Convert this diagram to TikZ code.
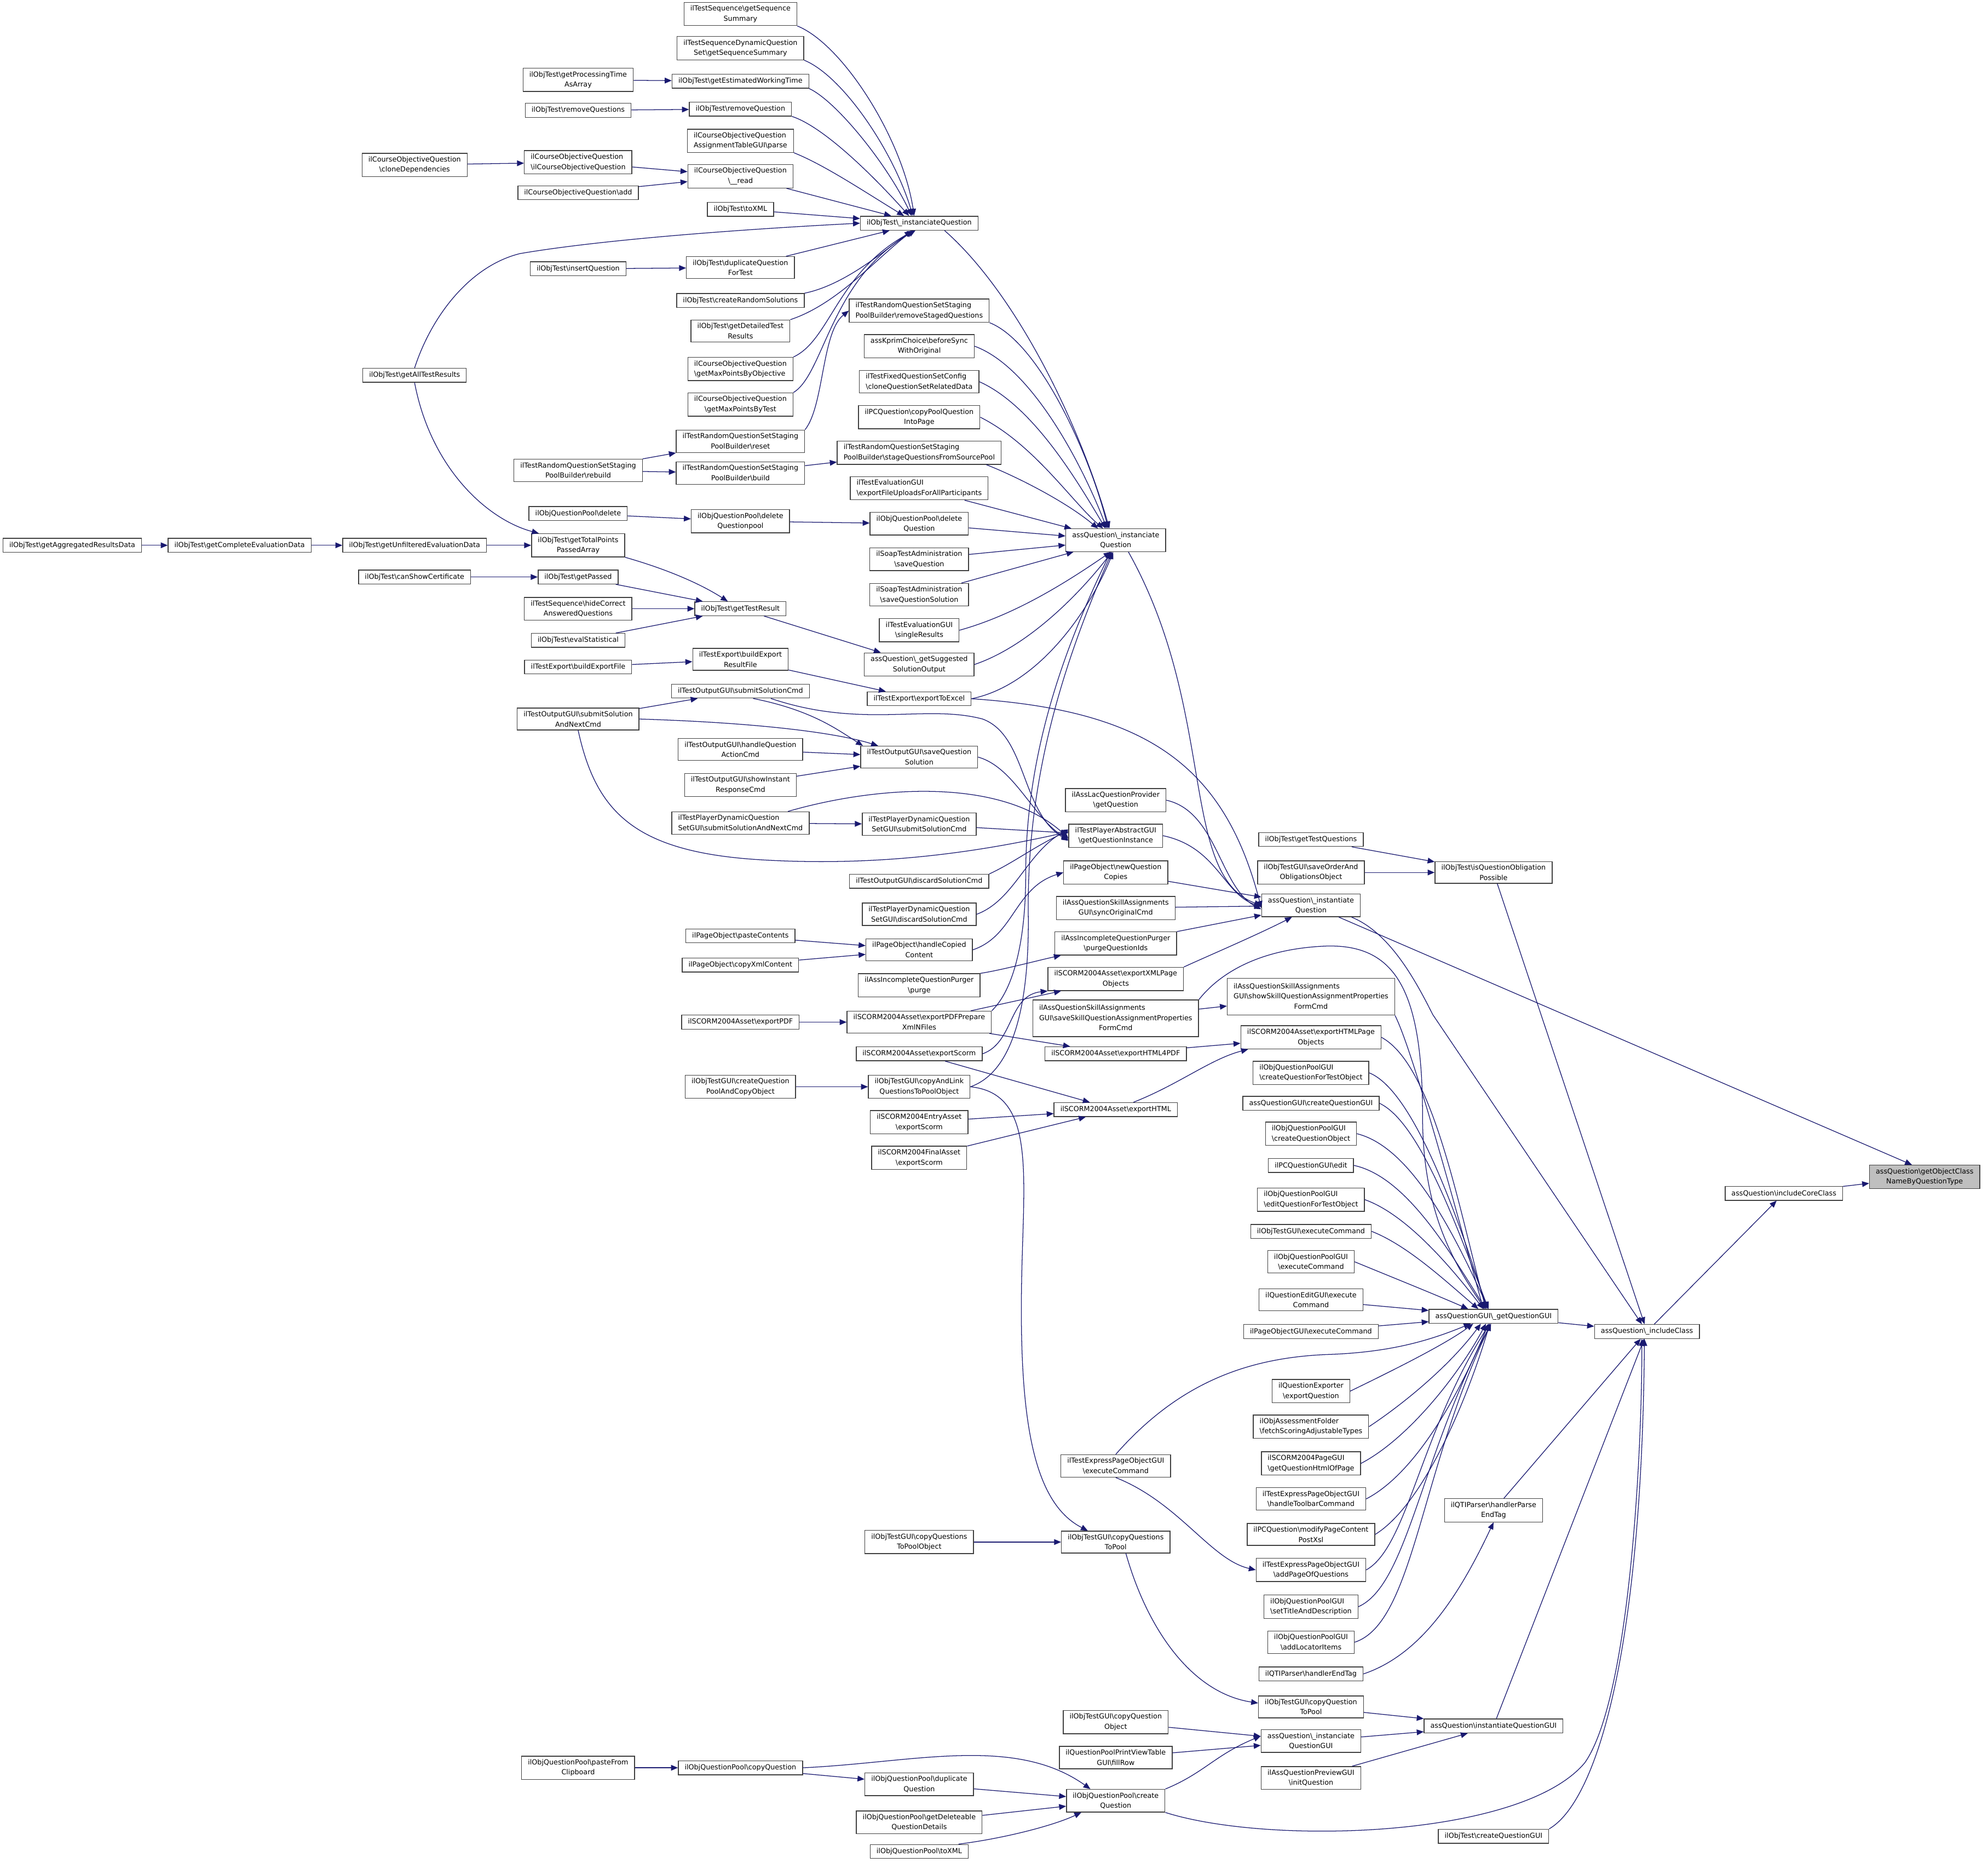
\documentclass[tikz,border=0pt]{standalone}
\usepackage{fontspec}
\setmainfont{DejaVu Sans}
\usetikzlibrary{arrows.meta}
\definecolor{edgeblue}{RGB}{25,25,112}
\newcommand{\bsl}{\textbackslash}
\newcommand{\fnfont}{\fontsize{5.5}{8}\selectfont}

\begin{document}
\begin{tikzpicture}[x=1pt, y=-1pt,
  box/.style={draw=black!75, line width=0.6pt, fill=white, font=\fnfont, inner xsep=5pt, inner ysep=2.5pt, minimum height=11pt},
  fn/.style={box, align=center},
  fnl/.style={box, align=left},
  root/.style={fn, fill=black!25},
  call/.style={draw=edgeblue, line width=0.55pt, -{Triangle[length=5.5pt, width=4.5pt]}}]
\useasboundingbox (0,0) rectangle (1568,1469);
% left part
\node[fn] (aggr) at (57,430) {ilObjTest\bsl getAggregatedResultsData};
\node[fn] (complete) at (189,430) {ilObjTest\bsl getCompleteEvaluationData};
\node[fn] (cloneDep) at (327,130) {ilCourseObjectiveQuestion\\\bsl cloneDependencies};
\node[fn] (allRes) at (327,296) {ilObjTest\bsl getAllTestResults};
\node[fn] (unfiltered) at (327,430) {ilObjTest\bsl getUnfilteredEvaluationData};
\node[fn] (canShow) at (327,455) {ilObjTest\bsl canShowCertificate};
\node[fn] (procTime) at (456,63) {ilObjTest\bsl getProcessingTime\\AsArray};
\node[fn] (removeQs) at (456,87) {ilObjTest\bsl removeQuestions};
\node[fnl] (courseCtor) at (456,128) {ilCourseObjectiveQuestion\\\bsl ilCourseObjectiveQuestion};
\node[fn] (courseAdd) at (456,152) {ilCourseObjectiveQuestion\bsl add};
\node[fn] (insertQ) at (456,212) {ilObjTest\bsl insertQuestion};
\node[fn] (rebuild) at (456,371) {ilTestRandomQuestionSetStaging\\PoolBuilder\bsl rebuild};
\node[fn] (qpDelete) at (456,405) {ilObjQuestionPool\bsl delete};
\node[fn] (totalPts) at (456,430) {ilObjTest\bsl getTotalPoints\\PassedArray};
\node[fn] (getPassed) at (456,455) {ilObjTest\bsl getPassed};
\node[fn] (hideCorrect) at (456,480) {ilTestSequence\bsl hideCorrect\\AnsweredQuestions};
\node[fn] (evalStat) at (456,505) {ilObjTest\bsl evalStatistical};
\node[fn] (buildExpFile) at (456,526) {ilTestExport\bsl buildExportFile};
\node[fn] (outSubmitNext) at (456,567) {ilTestOutputGUI\bsl submitSolution\\AndNextCmd};
\node[fn] (pasteClip) at (456,1394) {ilObjQuestionPool\bsl pasteFrom\\Clipboard};

\node[fn] (seqSum) at (584,11) {ilTestSequence\bsl getSequence\\Summary};
\node[fn] (dynSeqSum) at (584,38) {ilTestSequenceDynamicQuestion\\Set\bsl getSequenceSummary};
\node[fn] (estTime) at (584,64) {ilObjTest\bsl getEstimatedWorkingTime};
\node[fn] (removeQ) at (584,86) {ilObjTest\bsl removeQuestion};
\node[fnl] (parse) at (584,111) {ilCourseObjectiveQuestion\\AssignmentTableGUI\bsl parse};
\node[fn] (courseRead) at (584,139) {ilCourseObjectiveQuestion\\\bsl\_\_read};
\node[fn] (toXML) at (584,165) {ilObjTest\bsl toXML};
\node[fn] (dupQ) at (584,211) {ilObjTest\bsl duplicateQuestion\\ForTest};
\node[fn] (randSol) at (584,237) {ilObjTest\bsl createRandomSolutions};
\node[fn] (detailed) at (584,261) {ilObjTest\bsl getDetailedTest\\Results};
\node[fnl] (maxObj) at (584,291) {ilCourseObjectiveQuestion\\\bsl getMaxPointsByObjective};
\node[fn] (maxTest) at (584,319) {ilCourseObjectiveQuestion\\\bsl getMaxPointsByTest};
\node[fn] (reset) at (584,348) {ilTestRandomQuestionSetStaging\\PoolBuilder\bsl reset};
\node[fn] (build) at (584,373) {ilTestRandomQuestionSetStaging\\PoolBuilder\bsl build};
\node[fn] (delPool) at (584,411) {ilObjQuestionPool\bsl delete\\Questionpool};
\node[fn] (testResult) at (584,480) {ilObjTest\bsl getTestResult};
\node[fn] (buildResFile) at (584,520) {ilTestExport\bsl buildExport\\ResultFile};
\node[fn] (outSubmit) at (584,545) {ilTestOutputGUI\bsl submitSolutionCmd};
\node[fn] (handleAction) at (584,591) {ilTestOutputGUI\bsl handleQuestion\\ActionCmd};
\node[fn] (showInstant) at (584,619) {ilTestOutputGUI\bsl showInstant\\ResponseCmd};
\node[fnl] (dynSubmitNext) at (584,649) {ilTestPlayerDynamicQuestion\\SetGUI\bsl submitSolutionAndNextCmd};
\node[fn] (pasteContents) at (584,738) {ilPageObject\bsl pasteContents};
\node[fn] (copyXml) at (584,761) {ilPageObject\bsl copyXmlContent};
\node[fn] (exportPDF) at (584,806) {ilSCORM2004Asset\bsl exportPDF};
\node[fn] (createPoolCopy) at (584,857) {ilObjTestGUI\bsl createQuestion\\PoolAndCopyObject};
\node[fn] (qpCopy) at (584,1394) {ilObjQuestionPool\bsl copyQuestion};

% middle part
\node[fn] (objInst) at (725,176) {ilObjTest\bsl\_instanciateQuestion};
\node[fnl] (removeStaged) at (725,245) {ilTestRandomQuestionSetStaging\\PoolBuilder\bsl removeStagedQuestions};
\node[fn] (kprim) at (725,273) {assKprimChoice\bsl beforeSync\\WithOriginal};
\node[fnl] (fixedCfg) at (725,301) {ilTestFixedQuestionSetConfig\\\bsl cloneQuestionSetRelatedData};
\node[fn] (pcCopy) at (725,329) {ilPCQuestion\bsl copyPoolQuestion\\IntoPage};
\node[fnl] (stageQ) at (725,357) {ilTestRandomQuestionSetStaging\\PoolBuilder\bsl stageQuestionsFromSourcePool};
\node[fnl] (exportUploads) at (725,385) {ilTestEvaluationGUI\\\bsl exportFileUploadsForAllParticipants};
\node[fn] (delQuestion) at (725,413) {ilObjQuestionPool\bsl delete\\Question};
\node[fn] (soapSave) at (725,441) {ilSoapTestAdministration\\\bsl saveQuestion};
\node[fn] (soapSaveSol) at (725,469) {ilSoapTestAdministration\\\bsl saveQuestionSolution};
\node[fn] (singleRes) at (725,497) {ilTestEvaluationGUI\\\bsl singleResults};
\node[fn] (suggested) at (725,524) {assQuestion\bsl\_getSuggested\\SolutionOutput};
\node[fn] (exportExcel) at (725,551) {ilTestExport\bsl exportToExcel};
\node[fn] (saveSol) at (725,597) {ilTestOutputGUI\bsl saveQuestion\\Solution};
\node[fn] (dynSubmit) at (725,650) {ilTestPlayerDynamicQuestion\\SetGUI\bsl submitSolutionCmd};
\node[fn] (outDiscard) at (725,695) {ilTestOutputGUI\bsl discardSolutionCmd};
\node[fn] (dynDiscard) at (725,721) {ilTestPlayerDynamicQuestion\\SetGUI\bsl discardSolutionCmd};
\node[fn] (handleCopied) at (725,749) {ilPageObject\bsl handleCopied\\Content};
\node[fn] (purge) at (725,777) {ilAssIncompleteQuestionPurger\\\bsl purge};
\node[fn] (prepare) at (725,806) {ilSCORM2004Asset\bsl exportPDFPrepare\\XmlNFiles};
\node[fn] (exportScorm) at (725,831) {ilSCORM2004Asset\bsl exportScorm};
\node[fn] (copyLink) at (725,857) {ilObjTestGUI\bsl copyAndLink\\QuestionsToPoolObject};
\node[fn] (entryScorm) at (725,885) {ilSCORM2004EntryAsset\\\bsl exportScorm};
\node[fn] (finalScorm) at (725,913) {ilSCORM2004FinalAsset\\\bsl exportScorm};
\node[fn] (copyToPoolObj) at (725,1216) {ilObjTestGUI\bsl copyQuestions\\ToPoolObject};
\node[fn] (qpDuplicate) at (725,1407) {ilObjQuestionPool\bsl duplicate\\Question};
\node[fn] (deleteable) at (725,1437) {ilObjQuestionPool\bsl getDeleteable\\QuestionDetails};
\node[fn] (qpToXML) at (725,1460) {ilObjQuestionPool\bsl toXML};

\node[fn] (assInst) at (880,426) {assQuestion\bsl\_instanciate\\Question};
\node[fn] (lacProvider) at (880,631) {ilAssLacQuestionProvider\\\bsl getQuestion};
\node[fn] (questionInstance) at (880,659) {ilTestPlayerAbstractGUI\\\bsl getQuestionInstance};
\node[fn] (newCopies) at (880,688) {ilPageObject\bsl newQuestion\\Copies};
\node[fn] (syncOrig) at (880,716) {ilAssQuestionSkillAssignments\\GUI\bsl syncOriginalCmd};
\node[fn] (purgeIds) at (880,744) {ilAssIncompleteQuestionPurger\\\bsl purgeQuestionIds};
\node[fn] (exportXML) at (880,772) {ilSCORM2004Asset\bsl exportXMLPage\\Objects};
\node[box] (saveSkill) at (880,803) {\begin{tabular}{@{}l@{}}ilAssQuestionSkillAssignments\\GUI\bsl saveSkillQuestionAssignmentProperties\\\multicolumn{1}{@{}c@{}}{FormCmd}\end{tabular}};
\node[fn] (html4pdf) at (880,831) {ilSCORM2004Asset\bsl exportHTML4PDF};
\node[fn] (exportHTML) at (880,875) {ilSCORM2004Asset\bsl exportHTML};
\node[fn] (expressExec) at (880,1156) {ilTestExpressPageObjectGUI\\\bsl executeCommand};
\node[fn] (copyToPool) at (880,1216) {ilObjTestGUI\bsl copyQuestions\\ToPool};
\node[fn] (copyQObj) at (880,1358) {ilObjTestGUI\bsl copyQuestion\\Object};
\node[fn] (printRow) at (880,1386) {ilQuestionPoolPrintViewTable\\GUI\bsl fillRow};
\node[fn] (createQ) at (880,1420) {ilObjQuestionPool\bsl create\\Question};

% right part
\node[fn] (getTestQuestions) at (1034,662) {ilObjTest\bsl getTestQuestions};
\node[fn] (saveOrder) at (1034,688) {ilObjTestGUI\bsl saveOrderAnd\\ObligationsObject};
\node[fn] (assInstantiate) at (1034,714) {assQuestion\bsl\_instantiate\\Question};
\node[box] (showSkill) at (1034,786) {\begin{tabular}{@{}l@{}}ilAssQuestionSkillAssignments\\GUI\bsl showSkillQuestionAssignmentProperties\\\multicolumn{1}{@{}c@{}}{FormCmd}\end{tabular}};
\node[fn] (htmlPageObj) at (1034,818) {ilSCORM2004Asset\bsl exportHTMLPage\\Objects};
\node[fnl] (createForTest) at (1034,846) {ilObjQuestionPoolGUI\\\bsl createQuestionForTestObject};
\node[fn] (createGUI) at (1034,870) {assQuestionGUI\bsl createQuestionGUI};
\node[fnl] (createQObj) at (1034,894) {ilObjQuestionPoolGUI\\\bsl createQuestionObject};
\node[fn] (pcEdit) at (1034,919) {ilPCQuestionGUI\bsl edit};
\node[fnl] (editForTest) at (1034,946) {ilObjQuestionPoolGUI\\\bsl editQuestionForTestObject};
\node[fn] (testExec) at (1034,971) {ilObjTestGUI\bsl executeCommand};
\node[fn] (poolExec) at (1034,995) {ilObjQuestionPoolGUI\\\bsl executeCommand};
\node[fn] (editExec) at (1034,1025) {ilQuestionEditGUI\bsl execute\\Command};
\node[fn] (pageExec) at (1034,1050) {ilPageObjectGUI\bsl executeCommand};
\node[fn] (exporter) at (1034,1097) {ilQuestionExporter\\\bsl exportQuestion};
\node[fnl] (scoring) at (1034,1125) {ilObjAssessmentFolder\\\bsl fetchScoringAdjustableTypes};
\node[fnl] (scormPage) at (1034,1154) {ilSCORM2004PageGUI\\\bsl getQuestionHtmlOfPage};
\node[fn] (toolbar) at (1034,1182) {ilTestExpressPageObjectGUI\\\bsl handleToolbarCommand};
\node[fn] (modifyXsl) at (1034,1210) {ilPCQuestion\bsl modifyPageContent\\PostXsl};
\node[fn] (addPage) at (1034,1238) {ilTestExpressPageObjectGUI\\\bsl addPageOfQuestions};
\node[fnl] (setTitle) at (1034,1267) {ilObjQuestionPoolGUI\\\bsl setTitleAndDescription};
\node[fn] (locator) at (1034,1295) {ilObjQuestionPoolGUI\\\bsl addLocatorItems};
\node[fn] (endTag) at (1034,1320) {ilQTIParser\bsl handlerEndTag};
\node[fn] (copyQToPool) at (1034,1346) {ilObjTestGUI\bsl copyQuestion\\ToPool};
\node[fn] (instGUIold) at (1034,1373) {assQuestion\bsl\_instanciate\\QuestionGUI};
\node[fn] (preview) at (1034,1402) {ilAssQuestionPreviewGUI\\\bsl initQuestion};

\node[fn] (obligation) at (1178,688) {ilObjTest\bsl isQuestionObligation\\Possible};
\node[fn] (getQGUI) at (1178,1038) {assQuestionGUI\bsl\_getQuestionGUI};
\node[fn] (parseEndTag) at (1178,1191) {ilQTIParser\bsl handlerParse\\EndTag};
\node[fn] (instGUI) at (1178,1361) {assQuestion\bsl instantiateQuestionGUI};
\node[fn] (createQGUI) at (1178,1448) {ilObjTest\bsl createQuestionGUI};
\node[fn] (includeClass) at (1299,1050) {assQuestion\bsl\_includeClass};
\node[fn] (coreClass) at (1407,941) {assQuestion\bsl includeCoreClass};
\node[root] (objClass) at (1518,928) {assQuestion\bsl getObjectClass\\NameByQuestionType};

% calls: top left
\draw[call] (procTime) -- (estTime);
\draw[call] (removeQs) -- (removeQ);
\draw[call] (cloneDep) -- (courseCtor);
\draw[call] (courseCtor) -- (courseRead);
\draw[call] (courseAdd) -- (courseRead);
\draw[call] (insertQ) -- (dupQ);
\draw[call] (aggr) -- (complete);
\draw[call] (complete) -- (unfiltered);
\draw[call] (unfiltered) -- (totalPts);
\draw[call] (canShow) -- (getPassed);
\draw[call] (allRes.south) .. controls (340,370) and (385,410) .. ([xshift=6pt]totalPts.north west);
\draw[call] (totalPts.south east) .. controls (530,450) and (555,462) .. ([xshift=-10pt]testResult.north);
\draw[call] (getPassed) -- (testResult);
\draw[call] (hideCorrect) -- (testResult);
\draw[call] (evalStat) -- (testResult);
\draw[call] (testResult) -- (suggested);
\draw[call] (buildExpFile) -- (buildResFile);
\draw[call] (buildResFile) -- (exportExcel);
\draw[call] (rebuild) -- (reset);
\draw[call] (rebuild) -- (build);
\draw[call] (build) -- (stageQ);
\draw[call] (reset.north east) .. controls (650,320) and (648,262) .. (removeStaged.west);
\draw[call] (qpDelete) -- (delPool);
\draw[call] (delPool) -- (delQuestion);

% into ilObjTest\_instanciateQuestion
\draw[call] (seqSum.south east) .. controls (665,35) and (712,110) .. ([xshift=-4pt]objInst.north);
\draw[call] (dynSeqSum.south east) .. controls (665,60) and (705,120) .. ([xshift=-5pt]objInst.north);
\draw[call] (estTime.south east) .. controls (660,80) and (700,130) .. ([xshift=-6pt]objInst.north);
\draw[call] (removeQ.south east) .. controls (650,100) and (690,140) .. ([xshift=-8pt]objInst.north);
\draw[call] (parse.south east) .. controls (650,130) and (680,150) .. ([xshift=-12pt]objInst.north);
\draw[call] (courseRead) -- (objInst);
\draw[call] (toXML) -- (objInst);
\draw[call] (allRes.north) .. controls (340,250) and (370,210) .. (410,200) .. controls (480,188) and (600,180) .. (objInst.west);
\draw[call] (dupQ) -- (objInst);
\draw[call] (randSol.north east) .. controls (665,225) and (695,200) .. ([xshift=-6pt]objInst.south);
\draw[call] (detailed.north east) .. controls (660,240) and (690,205) .. ([xshift=-5pt]objInst.south);
\draw[call] (maxObj.north east) .. controls (655,268) and (660,215) .. ([xshift=-4pt]objInst.south);
\draw[call] (maxTest.north east) .. controls (650,295) and (655,220) .. ([xshift=-3pt]objInst.south);
\draw[call] ([xshift=20pt]objInst.south) .. controls (800,230) and (850,330) .. ([xshift=-5pt]assInst.north);

% into assQuestion\_instanciateQuestion
\draw[call] (removeStaged.south east) .. controls (820,270) and (860,360) .. ([xshift=-6pt]assInst.north);
\draw[call] (kprim.east) .. controls (815,290) and (855,370) .. ([xshift=-7pt]assInst.north);
\draw[call] (fixedCfg.east) .. controls (815,320) and (850,380) .. ([xshift=-8pt]assInst.north);
\draw[call] (pcCopy.east) .. controls (815,350) and (845,395) .. ([xshift=-10pt]assInst.north);
\draw[call] ([xshift=-12pt]stageQ.south east) .. controls (800,375) and (840,395) .. ([xshift=-14pt]assInst.north);
\draw[call] (exportUploads) -- (assInst);
\draw[call] (delQuestion) -- (assInst);
\draw[call] (soapSave) -- (assInst);
\draw[call] (soapSaveSol) -- (assInst);
\draw[call] (singleRes.east) .. controls (800,485) and (840,460) .. ([xshift=-4pt]assInst.south);
\draw[call] (suggested.east) .. controls (810,510) and (850,470) .. ([xshift=-3pt]assInst.south);
\draw[call] (exportExcel.east) .. controls (820,540) and (860,480) .. ([xshift=-2pt]assInst.south);
\draw[call] (prepare.north east) .. controls (800,780) and (809,740) .. (809,690) .. controls (809,600) and (835,520) .. ([xshift=-4pt]assInst.south);
\draw[call] (copyLink.east) .. controls (800,845) and (812,790) .. (811,720) .. controls (810,610) and (840,520) .. ([xshift=-3pt]assInst.south);

% test player
\draw[call] (outSubmitNext) -- (outSubmit);
\draw[call] (dynSubmitNext) -- (dynSubmit);
\draw[call] ([xshift=10pt]outSubmit.south) .. controls (640,560) and (660,575) .. ([xshift=2pt]saveSol.north west);
\draw[call] (outSubmitNext.east) .. controls (600,570) and (660,578) .. ([xshift=14pt]saveSol.north west);
\draw[call] (handleAction) -- (saveSol);
\draw[call] (showInstant) -- (saveSol);
\draw[call] ([xshift=24pt]outSubmit.south) .. controls (680,575) and (730,555) .. (775,567) .. controls (810,580) and (805,640) .. ([yshift=-4pt]questionInstance.west);
\draw[call] (saveSol.east) .. controls (800,605) and (815,645) .. ([yshift=-3pt]questionInstance.west);
\draw[call] ([xshift=-17pt]dynSubmitNext.north east) .. controls (690,620) and (790,612) .. ([yshift=-2pt]questionInstance.west);
\draw[call] (dynSubmit) -- (questionInstance);
\draw[call] (outSubmitNext.south) .. controls (470,640) and (500,672) .. (600,678) .. controls (700,684) and (780,670) .. ([yshift=3pt]questionInstance.west);
\draw[call] (outDiscard.north east) .. controls (800,680) and (815,668) .. ([yshift=4pt]questionInstance.west);
\draw[call] (dynDiscard.east) .. controls (800,710) and (810,672) .. ([yshift=5pt]questionInstance.west);

% into assQuestion\_instantiateQuestion
\draw[call] ([xshift=10pt]assInst.south) .. controls (960,560) and (930,690) .. (assInstantiate.west);
\draw[call] (exportExcel.east) .. controls (900,560) and (965,600) .. ([yshift=-2pt]assInstantiate.west);
\draw[call] (questionInstance.east) .. controls (960,668) and (965,705) .. ([yshift=-1pt]assInstantiate.west);
\draw[call] (lacProvider.east) .. controls (960,640) and (962,700) .. ([yshift=-3pt]assInstantiate.west);
\draw[call] (newCopies) -- (assInstantiate);
\draw[call] (syncOrig) -- (assInstantiate);
\draw[call] (purgeIds) -- (assInstantiate);
\draw[call] (exportXML.north east) .. controls (950,755) and (990,738) .. ([xshift=-15pt]assInstantiate.south);
\draw[call] (handleCopied.east) .. controls (800,738) and (800,700) .. (newCopies.west);
\draw[call] (pasteContents) -- (handleCopied);
\draw[call] (copyXml) -- (handleCopied);
\draw[call] (purge.north east) .. controls (790,765) and (820,757) .. ([xshift=5pt]purgeIds.south west);

% scorm export
\draw[call] (prepare) -- (exportXML);
\draw[call] (exportScorm.east) .. controls (800,822) and (795,785) .. (exportXML.south west);
\draw[call] (prepare) -- (html4pdf);
\draw[call] (exportPDF) -- (prepare);
\draw[call] (exportScorm) -- (exportHTML);
\draw[call] (entryScorm) -- (exportHTML);
\draw[call] (finalScorm) -- (exportHTML);
\draw[call] (html4pdf) -- (htmlPageObj);
\draw[call] ([xshift=14pt]exportHTML.north) .. controls (930,855) and (955,835) .. ([xshift=6pt]htmlPageObj.south west);
\draw[call] (saveSkill) -- (showSkill);

% copy to pool
\draw[call] (createPoolCopy) -- (copyLink);
\draw[call] (copyLink.east) .. controls (815,862) and (808,920) .. (806,1000) .. controls (803,1120) and (815,1185) .. ([xshift=-22pt]copyToPool.north);
\draw[call] (copyToPoolObj) -- (copyToPool);
\draw[call] ([xshift=8pt]copyToPool.south) .. controls (905,1285) and (940,1335) .. ([yshift=3pt]copyQToPool.west);
\draw[call] (expressExec.north) .. controls (930,1090) and (985,1070) .. (1050,1068) .. controls (1100,1066) and (1130,1056) .. ([xshift=-18pt]getQGUI.south);
\draw[call] (expressExec.south) .. controls (930,1185) and (955,1230) .. (addPage.west);
\draw[call] (copyQToPool) -- (instGUI);
\draw[call] (copyQObj) -- (instGUIold);
\draw[call] (printRow) -- (instGUIold);
\draw[call] (createQ.north east) .. controls (950,1398) and (958,1384) .. ([yshift=4pt]instGUIold.west);
\draw[call] (instGUIold) -- (instGUI);
\draw[call] (preview) -- (instGUI);
\draw[call] (pasteClip) -- (qpCopy);
\draw[call] (qpCopy.east) .. controls (720,1390) and (800,1368) .. ([xshift=-20pt]createQ.north);
\draw[call] (qpCopy) -- (qpDuplicate);
\draw[call] (qpDuplicate) -- (createQ);
\draw[call] (deleteable) -- (createQ);
\draw[call] ([xshift=-8pt]qpToXML.north east) .. controls (790,1450) and (830,1440) .. ([xshift=12pt]createQ.south west);

% into assQuestionGUI\_getQuestionGUI
\draw[call] (showSkill.south east) .. controls (1115,830) and (1150,960) .. ([xshift=-8pt]getQGUI.north);
\draw[call] (saveSkill.north east) .. controls (960,770) and (990,748) .. (1047,746) .. controls (1100,745) and (1122,780) .. (1122,880) .. controls (1122,960) and (1150,1000) .. ([xshift=-7pt]getQGUI.north);
\draw[call] (htmlPageObj.east) .. controls (1130,840) and (1150,950) .. ([xshift=-6pt]getQGUI.north);
\draw[call] (createForTest.east) .. controls (1115,860) and (1150,960) .. ([xshift=-5pt]getQGUI.north);
\draw[call] (createGUI.east) .. controls (1120,885) and (1150,970) .. ([xshift=-4pt]getQGUI.north);
\draw[call] (createQObj.east) .. controls (1115,905) and (1150,980) .. ([xshift=-4pt]getQGUI.north);
\draw[call] (pcEdit.east) .. controls (1110,928) and (1145,990) .. ([xshift=-6pt]getQGUI.north);
\draw[call] (editForTest.east) .. controls (1110,958) and (1145,1000) .. ([xshift=-8pt]getQGUI.north);
\draw[call] (testExec.east) .. controls (1110,982) and (1140,1010) .. ([xshift=-12pt]getQGUI.north);
\draw[call] (poolExec.east) .. controls (1100,1008) and (1130,1020) .. ([xshift=-20pt]getQGUI.north);
\draw[call] (editExec) -- (getQGUI);
\draw[call] (pageExec) -- (getQGUI);
\draw[call] (exporter.east) .. controls (1100,1080) and (1140,1060) .. ([xshift=-16pt]getQGUI.south);
\draw[call] (scoring.east) .. controls (1110,1105) and (1145,1075) .. ([xshift=-10pt]getQGUI.south);
\draw[call] (scormPage.east) .. controls (1110,1135) and (1150,1085) .. ([xshift=-6pt]getQGUI.south);
\draw[call] (toolbar.east) .. controls (1120,1160) and (1155,1090) .. ([xshift=-4pt]getQGUI.south);
\draw[call] (modifyXsl.east) .. controls (1125,1185) and (1160,1095) .. ([xshift=-3pt]getQGUI.south);
\draw[call] (addPage.east) .. controls (1110,1220) and (1120,1130) .. ([xshift=-3pt]getQGUI.south);
\draw[call] (setTitle.east) .. controls (1110,1250) and (1120,1150) .. ([xshift=-2pt]getQGUI.south);
\draw[call] (locator.east) .. controls (1115,1280) and (1120,1160) .. ([xshift=-2pt]getQGUI.south);

% into assQuestion\_includeClass and the root
\draw[call] (endTag.east) .. controls (1120,1305) and (1150,1260) .. (parseEndTag.south);
\draw[call] (getTestQuestions) -- (obligation);
\draw[call] (saveOrder) -- (obligation);
\draw[call] (obligation) -- (includeClass);
\draw[call] (getQGUI) -- (includeClass);
\draw[call] (parseEndTag) -- (includeClass);
\draw[call] (instGUI) -- (includeClass);
\draw[call] (createQGUI.north east) .. controls (1260,1420) and (1295,1300) .. ([xshift=-2pt]includeClass.south);
\draw[call] (createQ.south east) .. controls (1000,1455) and (1200,1450) .. (1250,1390) .. controls (1285,1340) and (1295,1150) .. ([xshift=-4pt]includeClass.south);
\draw[call] ([xshift=32pt]assInstantiate.south) .. controls (1095,735) and (1115,770) .. (1130,800) -- ([xshift=-4pt]includeClass.north);
\draw[call] ([xshift=22pt]assInstantiate.south) -- ([xshift=-10pt]objClass.north);
\draw[call] (includeClass) -- (coreClass);
\draw[call] (coreClass) -- (objClass);
\end{tikzpicture}
\end{document}
